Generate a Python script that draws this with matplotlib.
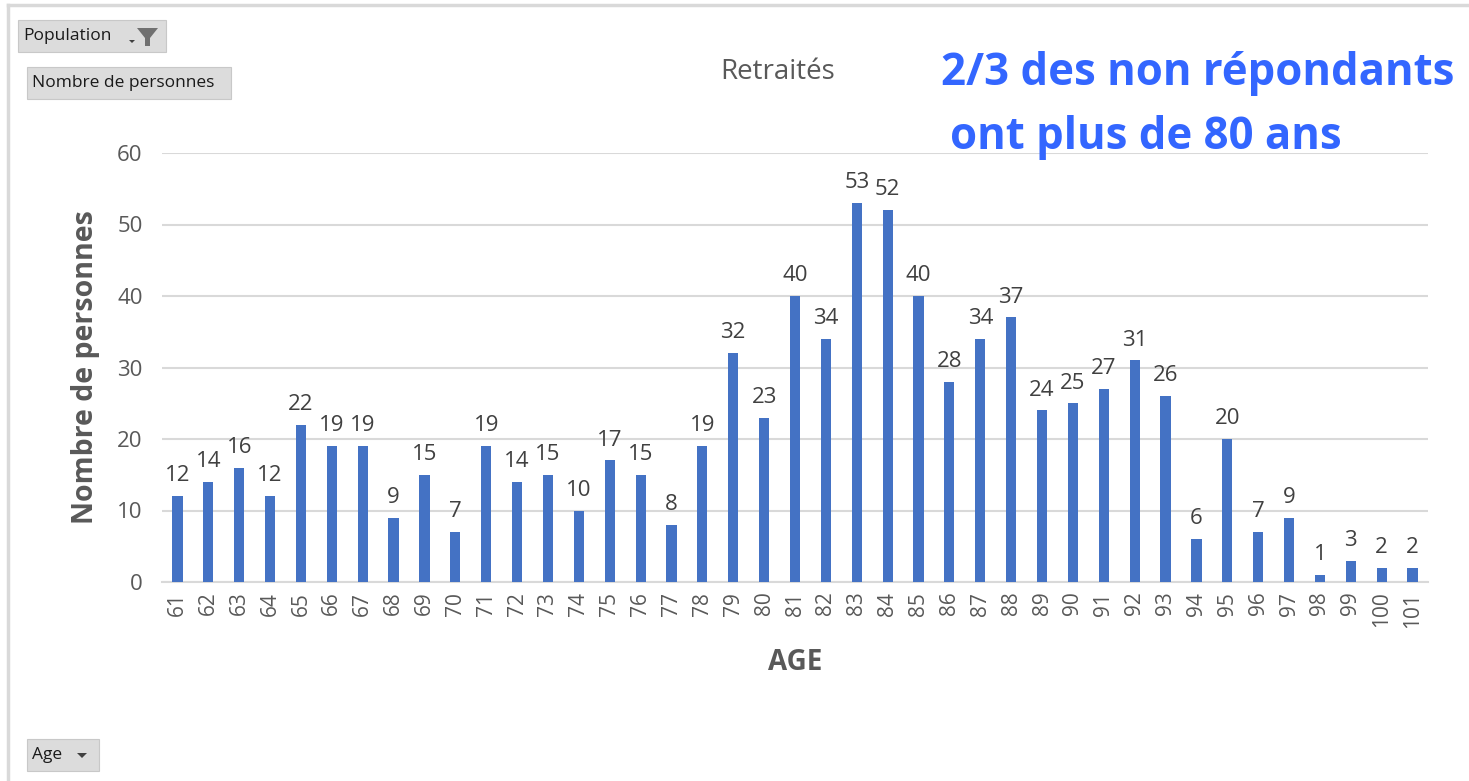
import matplotlib
matplotlib.use("Agg")
import matplotlib.pyplot as plt
from matplotlib.patches import Rectangle, Polygon
from matplotlib.lines import Line2D

plt.rcParams['font.family'] = ['Open Sans', 'DejaVu Sans']

ages = [str(a) for a in range(61, 102)]
counts = [12, 14, 16, 12, 22, 19, 19, 9, 15, 7, 19, 14, 15, 10, 17, 15, 8, 19, 32, 23,
          40, 34, 53, 52, 40, 28, 34, 37, 24, 25, 27, 31, 26, 6, 20, 7, 9, 1, 3, 2, 2]
yticks = [0, 10, 20, 30, 40, 50, 60]

W, H = 1469, 781
fig = plt.figure(figsize=(W / 100, H / 100), dpi=100)
fig.patch.set_facecolor('white')

def fx(px):
    return px / W

def fy(py):
    return 1 - py / H

ax = fig.add_axes([fx(162), fy(582), fx(1428) - fx(162), fy(153) - fy(582)])
x = list(range(len(ages)))
ax.bar(x, counts, width=0.33, color='#4472C4', zorder=3)
ax.set_xlim(-0.5, len(ages) - 0.5)
ax.set_ylim(0, 60)
ax.set_yticks(yticks)
ax.set_xticks(x)
ax.set_xticklabels(ages, rotation=90, fontsize=15, color='#595959')
ax.tick_params(axis='y', labelsize=16, colors='#595959', length=0, pad=14)
ax.tick_params(axis='x', length=0, pad=7)
ax.grid(axis='y', color='#D9D9D9', linewidth=1.5, zorder=0)
for s in ax.spines.values():
    s.set_visible(False)
ax.spines['bottom'].set_visible(True)
ax.spines['bottom'].set_color('#D9D9D9')
ax.spines['bottom'].set_linewidth(1.5)

for xi, v in zip(x, counts):
    ax.annotate(str(v), (xi, v), xytext=(0, 7), textcoords='offset points',
                ha='center', va='bottom', fontsize=16, color='#404040')

ax.set_ylabel('Nombre de personnes', fontsize=20.5, fontweight='bold', color='#595959', labelpad=12)
ax.set_xlabel('AGE', fontsize=20, fontweight='bold', color='#595959', labelpad=15)

fig.text(fx(778), fy(72), 'Retraités', ha='center', va='center', fontsize=20, color='#595959')
fig.text(fx(1198), fy(73), '2/3 des non répondants', ha='center', va='center',
         fontsize=31.5, fontweight='bold', color='#3366FF', zorder=10)
fig.text(fx(1146), fy(137), 'ont plus de 80 ans', ha='center', va='center',
         fontsize=31.5, fontweight='bold', color='#3366FF', zorder=10)

# outer frame lines
fig.add_artist(Line2D([fx(8), 1], [fy(5), fy(5)], color='#D9D9D9', linewidth=2.5))
fig.add_artist(Line2D([fx(8), fx(8)], [0, fy(5)], color='#D9D9D9', linewidth=2.5))

def button(x0, y0, w, h, label, fs=12.5):
    fig.add_artist(Rectangle((fx(x0), fy(y0 + h)), w / W, h / H, facecolor='#DCDCDC',
                             edgecolor='#C8C8C8', linewidth=0.8))
    fig.text(fx(x0 + 5), fy(y0 + h / 2), label, ha='left', va='center', fontsize=fs, color='#1a1a1a')

button(18, 20, 148, 32, 'Population')
# filter icon and dropdown
fig.add_artist(Polygon([(fx(137), fy(28)), (fx(158), fy(28)), (fx(150), fy(38)),
                        (fx(150), fy(46)), (fx(145), fy(46)), (fx(145), fy(38))],
                       closed=True, facecolor='#707070', edgecolor='none'))
fig.add_artist(Polygon([(fx(129), fy(40)), (fx(135), fy(40)), (fx(132), fy(43))],
                       closed=True, facecolor='#404040', edgecolor='none'))
button(27, 67, 204, 32, 'Nombre de personnes')
button(27, 739, 72, 32, 'Age')
fig.add_artist(Polygon([(fx(77), fy(753)), (fx(87), fy(753)), (fx(82), fy(758))],
                       closed=True, facecolor='#404040', edgecolor='none'))

fig.savefig('out.png', dpi=100)
